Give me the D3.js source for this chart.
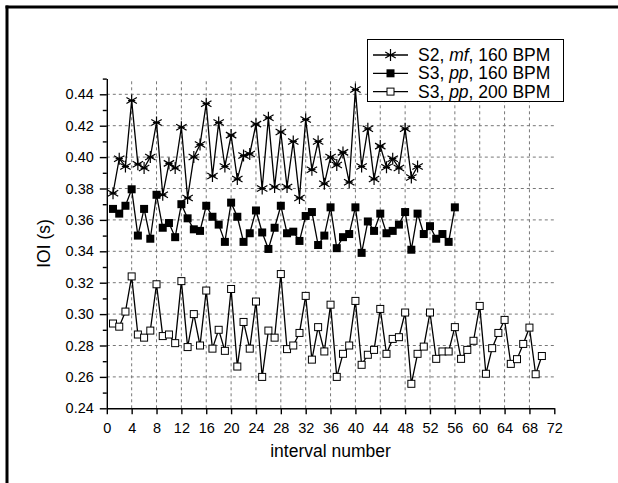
<!DOCTYPE html>
<html>
<head>
<meta charset="utf-8">
<script src="https://cdn.jsdelivr.net/npm/d3@7"></script>
<style>
  body { margin: 0; background: #fff; }
  #chart { width: 618px; height: 483px; }
  text { font-family: "Liberation Sans", Arial, sans-serif; fill: #000; }
</style>
</head>
<body>
<div id="chart"></div>
<script>
// IOI per interval, three performances

const s2mf160 = [0.377, 0.399, 0.394, 0.436, 0.3955, 0.393, 0.400, 0.422, 0.376, 0.396,
    0.393, 0.419, 0.374, 0.400, 0.408, 0.434, 0.388, 0.422, 0.394, 0.414,
    0.386, 0.401, 0.402, 0.421, 0.380, 0.425, 0.381, 0.416, 0.381, 0.410,
    0.374, 0.424, 0.392, 0.410, 0.383, 0.400, 0.395, 0.403, 0.384, 0.443,
    0.394, 0.418, 0.386, 0.407, 0.3935, 0.399, 0.393, 0.418, 0.387, 0.394];

const s3pp160 = [0.367, 0.364, 0.369, 0.3795, 0.350, 0.367, 0.348, 0.376, 0.355, 0.358,
    0.349, 0.370, 0.361, 0.354, 0.353, 0.369, 0.362, 0.357, 0.346, 0.371,
    0.362, 0.346, 0.3515, 0.366, 0.352, 0.3415, 0.355, 0.369, 0.3515, 0.3525,
    0.3466, 0.3625, 0.365, 0.344, 0.350, 0.368, 0.342, 0.349, 0.351, 0.368,
    0.339, 0.359, 0.353, 0.364, 0.3515, 0.353, 0.357, 0.365, 0.341, 0.364,
    0.351, 0.356, 0.348, 0.351, 0.346, 0.368];

const s3pp200 = [0.294, 0.292, 0.3016, 0.324, 0.287, 0.285, 0.2895, 0.319, 0.286, 0.287,
    0.2815, 0.321, 0.279, 0.300, 0.280, 0.315, 0.278, 0.290, 0.2766, 0.316,
    0.2666, 0.295, 0.278, 0.308, 0.260, 0.2895, 0.285, 0.3255, 0.2777, 0.280,
    0.288, 0.3116, 0.271, 0.2917, 0.2762, 0.306, 0.260, 0.2747, 0.280, 0.3084,
    0.2677, 0.2741, 0.2772, 0.3033, 0.2747, 0.2842, 0.2853, 0.301, 0.2556, 0.2747,
    0.2793, 0.301, 0.2715, 0.2762, 0.2762, 0.2917, 0.2715, 0.2772, 0.283, 0.3052,
    0.262, 0.2783, 0.288, 0.2963, 0.2683, 0.2713, 0.281, 0.2914, 0.2617, 0.2733];

const xTicks = d3.range(0, 73, 4);
const yTicks = [0.24, 0.26, 0.28, 0.30, 0.32, 0.34, 0.36, 0.38, 0.40, 0.42, 0.44];
const yMinor = d3.range(25, 46, 2).map(d => d / 100);

const legendRows = [
    { name: ['S2, ', 'mf', ', 160 BPM'], data: s2mf160, marker: 'star' },
    { name: ['S3, ', 'pp', ', 160 BPM'], data: s3pp160, marker: 'filled' },
    { name: ['S3, ', 'pp', ', 200 BPM'], data: s3pp200, marker: 'open' }
];

function drawChart() {
    const width = 618, height = 483;
    const svg = d3.select('#chart').append('svg')
        .attr('width', width)
        .attr('height', height);

    // outer frame (left and top only)
    svg.append('line').attr('x1', 7).attr('y1', 5.5).attr('x2', 7).attr('y2', height)
        .attr('stroke', '#000').attr('stroke-width', 3);
    svg.append('line').attr('x1', 5.5).attr('y1', 7).attr('x2', width).attr('y2', 7)
        .attr('stroke', '#000').attr('stroke-width', 3);

    const x = d3.scaleLinear().domain([0, 72]).range([106.8, 554.3]);
    const y = d3.scaleLinear().domain([0.24, 0.45]).range([408.3, 78.6]);

    // dashed grid
    const grid = svg.append('g');
    grid.selectAll('.vg')
        .data(xTicks.filter(d => d > 0 && d < 72))
        .enter().append('line')
        .attr('x1', d => x(d)).attr('x2', d => x(d))
        .attr('y1', y(0.24)).attr('y2', y(0.45))
        .attr('stroke', '#777').attr('stroke-width', 1)
        .attr('stroke-dasharray', '3,3');
    grid.selectAll('.hg')
        .data(yTicks.filter(d => d > 0.24))
        .enter().append('line')
        .attr('x1', x(0)).attr('x2', x(72))
        .attr('y1', d => y(d)).attr('y2', d => y(d))
        .attr('stroke', '#777').attr('stroke-width', 1)
        .attr('stroke-dasharray', '3,3');

    // axes
    const xAxis = svg.append('g')
        .attr('transform', `translate(0,${y(0.24)})`)
        .call(d3.axisBottom(x).tickValues(xTicks).tickSize(6).tickPadding(8).tickSizeOuter(0));
    xAxis.selectAll('text').style('font-size', '14.5px');

    const yAxis = svg.append('g')
        .attr('transform', `translate(${x(0)},0)`)
        .call(d3.axisLeft(y).tickValues(yTicks).tickFormat(d3.format('.2f'))
            .tickSize(7).tickPadding(6).tickSizeOuter(0));
    yAxis.selectAll('text').style('font-size', '14.5px');

    svg.append('g')
        .attr('transform', `translate(${x(0)},0)`)
        .call(d3.axisLeft(y).tickValues(yMinor).tickSize(4).tickFormat(''))
        .select('.domain').remove();

    svg.selectAll('.domain, .tick line').attr('stroke', '#000').attr('stroke-width', 1.4);

    // axis titles
    svg.append('text')
        .attr('x', (x(0) + x(72)) / 2)
        .attr('y', 457)
        .attr('text-anchor', 'middle')
        .style('font-size', '17.5px')
        .text('interval number');

    svg.append('text')
        .attr('transform', `translate(50,${(y(0.24) + y(0.45)) / 2}) rotate(-90)`)
        .attr('text-anchor', 'middle')
        .style('font-size', '17.5px')
        .text('IOI (s)');

    const line = d3.line()
        .x((d, i) => x(i + 1))
        .y(d => y(d));

    function drawMarker(g, type, cx, cy) {
        if (type === 'star') {
            const r = 6;
            g.append('path')
                .attr('d', `M${cx},${cy - r}L${cx},${cy + r}` +
                    `M${cx - r * 0.87},${cy - r * 0.5}L${cx + r * 0.87},${cy + r * 0.5}` +
                    `M${cx - r * 0.87},${cy + r * 0.5}L${cx + r * 0.87},${cy - r * 0.5}` +
                    `M${cx - r * 0.6},${cy}L${cx + r * 0.6},${cy}`)
                .attr('stroke', '#000').attr('stroke-width', 1.2).attr('fill', 'none');
        } else if (type === 'filled') {
            g.append('rect')
                .attr('x', cx - 4).attr('y', cy - 4).attr('width', 8).attr('height', 8)
                .attr('fill', '#000');
        } else {
            g.append('rect')
                .attr('x', cx - 3.5).attr('y', cy - 3.5).attr('width', 7).attr('height', 7)
                .attr('fill', '#fff').attr('stroke', '#000').attr('stroke-width', 1);
        }
    }

    // series lines then markers
    legendRows.forEach(s => {
        svg.append('path')
            .datum(s.data)
            .attr('d', line)
            .attr('fill', 'none')
            .attr('stroke', '#000')
            .attr('stroke-width', 1.3);
        const mg = svg.append('g');
        s.data.forEach((v, i) => drawMarker(mg, s.marker, x(i + 1), y(v)));
    });

    // legend
    const lg = svg.append('g');
    lg.append('rect')
        .attr('x', 367.5).attr('y', 39.5).attr('width', 196).attr('height', 62)
        .attr('fill', '#fff').attr('stroke', '#000').attr('stroke-width', 1);

    legendRows.forEach((s, i) => {
        const cy = 55 + i * 18.3;
        lg.append('line')
            .attr('x1', 373).attr('x2', 408).attr('y1', cy).attr('y2', cy)
            .attr('stroke', '#000').attr('stroke-width', 1.3);
        drawMarker(lg, s.marker, 390.5, cy);
        const t = lg.append('text')
            .attr('x', 418).attr('y', cy + 6)
            .style('font-size', '17.5px');
        t.append('tspan').text(s.name[0]);
        t.append('tspan').style('font-style', 'italic').text(s.name[1]);
        t.append('tspan').text(s.name[2]);
    });
}

drawChart();
</script>
</body>
</html>
